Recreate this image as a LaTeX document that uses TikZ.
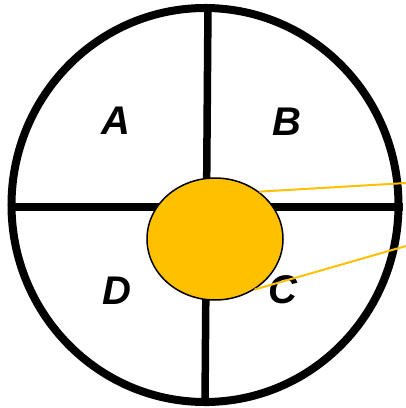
\documentclass[tikz,border=0pt]{standalone}
\usepackage{fontspec}
\setmainfont{Liberation Sans}
\usepackage{xcolor}
\usetikzlibrary{shapes.geometric}
\definecolor{amber}{RGB}{255,192,0}
\tikzset{
  quadlabel/.style={font=\fontsize{40}{42}\selectfont\bfseries\itshape, inner sep=0pt},
  leader/.style={draw=amber, line width=2pt}
}
\begin{document}
\begin{tikzpicture}[x=1pt,y=-1pt]
    \useasboundingbox (0,0) rectangle (406,408);
    \node (rim) [ellipse, draw, line width=8pt, inner sep=0pt, minimum width=387pt, minimum height=394pt] at (205,205) {};
    \draw [line width=7.5pt] ([xshift=3pt]rim.north) to ([xshift=0pt]rim.south);
    \draw [line width=7.5pt] ([yshift=-2pt]rim.west) to ([yshift=-2pt]rim.east);
    \node (A) [quadlabel] at (116,121) {A};
    \node (B) [quadlabel] at (287,122) {B};
    \node (D) [quadlabel] at (117,291) {D};
    \node (C) [quadlabel] at (283,290) {C};
    \node (hub) [ellipse, draw, line width=1.5pt, fill=amber, inner sep=0pt, minimum width=136pt, minimum height=122pt] at (215,239) {};
    \coordinate (tipa) at (406,183);
    \coordinate (tipb) at (406,246);
    \draw [leader] (hub.47) to (tipa);
    \draw [leader] (hub.-52) to (tipb);
  \end{tikzpicture}
\end{document}
